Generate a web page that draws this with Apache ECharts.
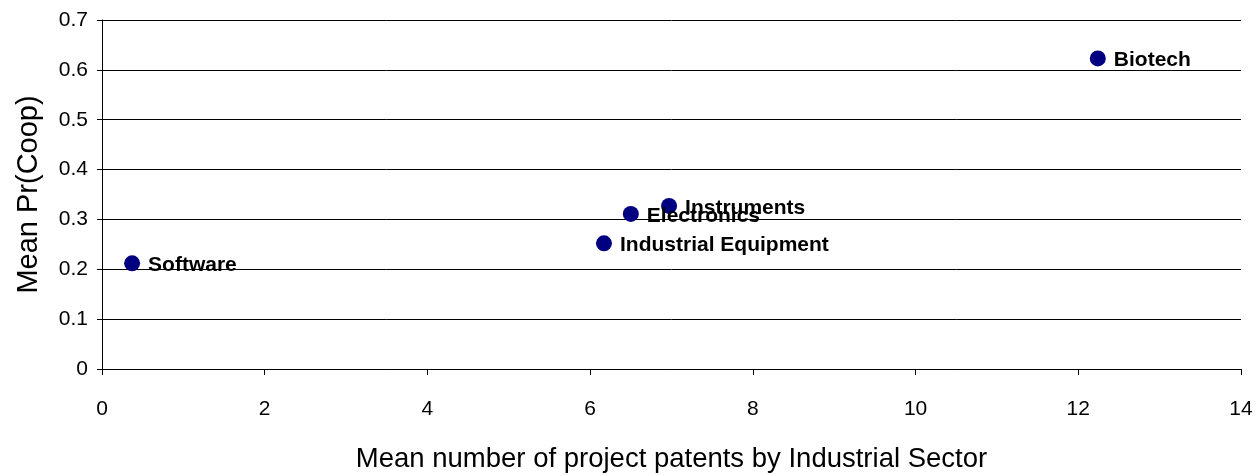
<!DOCTYPE html>
<html>
<head>
<meta charset="utf-8">
<script src="https://cdn.jsdelivr.net/npm/echarts@6/dist/echarts.min.js"></script>
<style>
    html, body { margin: 0; padding: 0; background: #fff; }
    #chart { width: 1258px; height: 476px; }
</style>
</head>
<body>
<div id="chart"></div>
<script>
// sectors and their means
var sectors = ['Software', 'Industrial Equipment', 'Electronics', 'Instruments', 'Biotech'];
var meanPatents = [0.37, 6.17, 6.5, 6.97, 12.24];
var meanCoop = [0.212, 0.252, 0.311, 0.327, 0.623];

var FONT = 'Liberation Sans, Arial, sans-serif';
var DOT = '#000080';

var points = sectors.map(function(name, i) {
    return {name: name, value: [meanPatents[i], meanCoop[i]]};
});

var chart = echarts.init(document.getElementById('chart'));
chart.setOption({
    animation: false,
    grid: {left: 102, right: 17, top: 20, bottom: 107, containLabel: false, outerBoundsMode: 'none'},
    xAxis: {
        type: 'value',
        min: 0,
        max: 14,
        interval: 2,
        name: 'Mean number of project patents by Industrial Sector',
        nameLocation: 'middle',
        nameGap: 76,
        nameTextStyle: {fontFamily: FONT, fontSize: 27.5, color: '#000'},
        axisLine: {show: true, onZero: false, lineStyle: {color: '#000', width: 1}},
        axisTick: {show: true, inside: false, length: 6, lineStyle: {color: '#000'}},
        axisLabel: {fontFamily: FONT, fontSize: 21, color: '#000', margin: 30},
        splitLine: {show: false}
    },
    yAxis: {
        type: 'value',
        min: 0,
        max: 0.7,
        interval: 0.1,
        name: 'Mean Pr(Coop)',
        nameLocation: 'middle',
        nameGap: 59,
        nameTextStyle: {fontFamily: FONT, fontSize: 29, color: '#000'},
        axisLine: {show: true, lineStyle: {color: '#000', width: 1}},
        axisTick: {show: true, inside: false, length: 5, lineStyle: {color: '#000'}},
        axisLabel: {fontFamily: FONT, fontSize: 21, color: '#000', margin: 14},
        splitLine: {show: true, lineStyle: {color: '#000', width: 1}}
    },
    series: [{
        type: 'scatter',
        symbol: 'circle',
        symbolSize: 16,
        itemStyle: {color: DOT, opacity: 1},
        data: points,
        label: {
            show: true,
            position: 'right',
            distance: 8,
            offset: [0, 2],
            formatter: '{b}',
            fontFamily: FONT,
            fontSize: 21,
            fontWeight: 'bold',
            color: '#000'
        }
    }]
});
</script>
</body>
</html>
